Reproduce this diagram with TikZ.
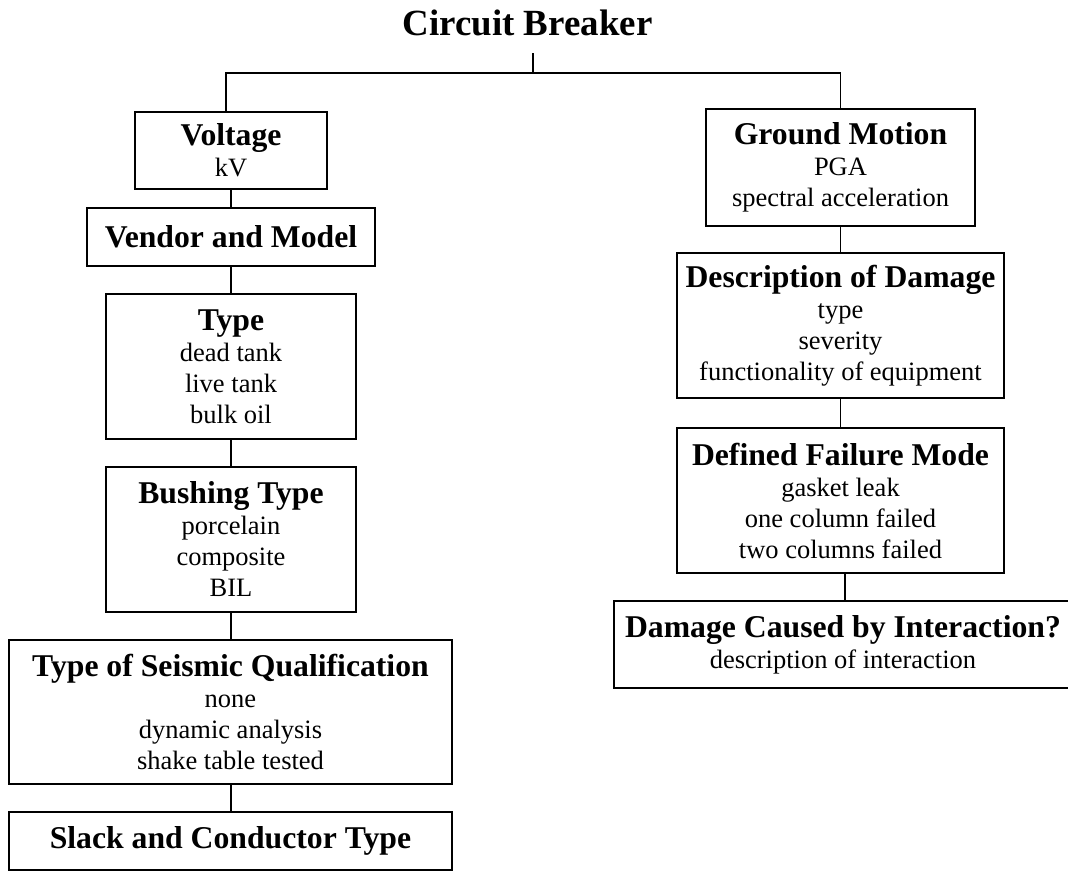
\documentclass[tikz,border=0pt]{standalone}
\usepackage{fontspec}
\setmainfont{Liberation Serif}
\newcommand{\hd}{\fontsize{31.7}{31}\selectfont\bfseries}
\begin{document}
\begin{tikzpicture}[x=1pt,y=-1pt,
  box/.style={draw, line width=1.3pt, rectangle, inner sep=0pt, align=center,
    font=\fontsize{26.5}{31}\selectfont},
  conn/.style={line width=1.2pt}]
\useasboundingbox (0,0) rectangle (1068,871);
\node[anchor=base, font=\fontsize{36.9}{40}\selectfont\bfseries] (title) at (527.5,35) {Circuit Breaker};
\node[box, minimum width=192pt, minimum height=77pt] (volt) at (231,150.5) {{\hd Voltage}\\kV};
\node[box, minimum width=288pt, minimum height=58pt] (vend) at (231,237) {{\hd Vendor and Model}};
\node[box, minimum width=250pt, minimum height=145pt] (type) at (231,366.5) {{\hd Type}\\dead tank\\live tank\\bulk oil};
\node[box, minimum width=250pt, minimum height=145pt] (bush) at (231,539.5) {{\hd Bushing Type}\\porcelain\\composite\\BIL};
\node[box, minimum width=443pt, minimum height=144pt] (seis) at (230.5,712) {{\hd Type of Seismic Qualification}\\none\\dynamic analysis\\shake table tested};
\node[box, minimum width=443pt, minimum height=58pt] (slack) at (230.5,841) {{\hd Slack and Conductor Type}};
\node[box, minimum width=269pt, minimum height=117pt] (gm) at (840.5,167.5) {{\hd Ground Motion}\\PGA\\spectral acceleration};
\node[box, minimum width=327pt, minimum height=145pt] (desc) at (840.5,325.5) {{\hd Description of Damage}\\type\\severity\\functionality of equipment};
\node[box, minimum width=327pt, minimum height=145pt] (dfm) at (840.5,500.5) {{\hd Defined Failure Mode}\\gasket leak\\one column failed\\two columns failed};
\node[box, minimum width=458pt, minimum height=87pt] (dci) at (843,644.5) {{\hd Damage Caused by Interaction?}\\description of interaction};
\coordinate (t0) at (533,53);
\coordinate (j) at (533,73);
\draw[conn] (t0) -- (j);
\draw[conn] (j) -| ([xshift=-5pt]volt.north);
\draw[conn] (j) -| (gm.north);
\draw[conn] (volt) -- (vend);
\draw[conn] (vend) -- (type);
\draw[conn] (type) -- (bush);
\draw[conn] (bush.south) -- (bush.south |- seis.north);
\draw[conn] (seis.south -| bush.south) -- (bush.south |- slack.north);
\draw[conn] (gm) -- (desc);
\draw[conn] (desc) -- (dfm);
\draw[conn] ([xshift=4.5pt]dfm.south) -- ([xshift=4.5pt]dfm.south |- dci.north);
\end{tikzpicture}
\end{document}
